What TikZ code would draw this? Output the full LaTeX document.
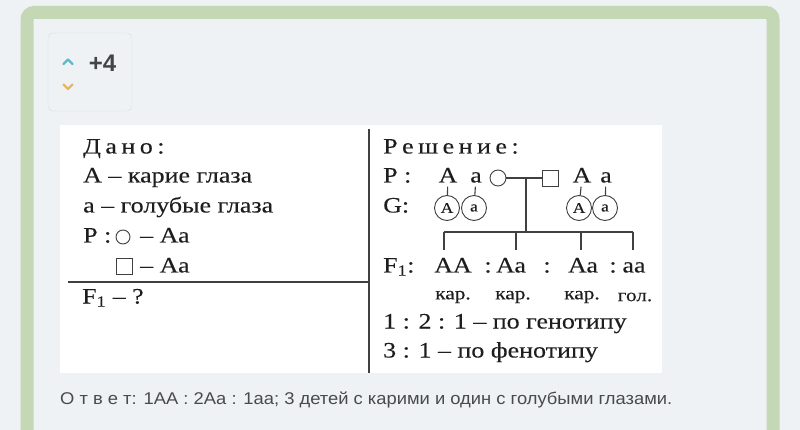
\documentclass[tikz,border=0pt]{standalone}
\usepackage{fontspec}
\setmainfont{Liberation Serif}[FakeStretch=1.18, FakeBold=0.15]
\newfontfamily\uisans{Liberation Sans}[FakeStretch=1.08]
\newfontfamily\uisansbold{Liberation Sans Bold}
\usetikzlibrary{positioning}

\definecolor{pagebg}{HTML}{EEF2F5}
\definecolor{framegreen}{HTML}{C4D8B6}
\definecolor{votebd}{HTML}{D3E0E8}
\definecolor{upteal}{HTML}{5DB8C9}
\definecolor{downamber}{HTML}{E9B565}
\definecolor{ink}{HTML}{1E1E1E}
\definecolor{answergray}{HTML}{4A4A4A}
\definecolor{scoregray}{HTML}{444444}

\tikzset{
  txt/.style={anchor=west, inner sep=0pt, text=ink, font=\fontsize{22}{22}\selectfont,
    text height=15pt, text depth=4pt},
  allele/.style={txt, anchor=center},
  eyes/.style={inner sep=0pt, text=ink, font=\fontsize{18}{18}\selectfont},
  gamete/.style={circle, draw=ink!85, line width=0.9pt, minimum size=25pt, inner sep=0pt,
    text=ink, font=\fontsize{15}{15}\selectfont},
  sym/.style={draw=ink!85, line width=0.9pt, inner sep=0pt},
  rule/.style={ink!85, line width=1.1pt}
}

\begin{document}
\begin{tikzpicture}[x=1pt, y=-1pt]
    \useasboundingbox (0,0) rectangle (800,430);
    \clip (0,0) rectangle (800,430);
    \fill[pagebg] (0,0) rectangle (800,430);
    \draw[framegreen, line width=13pt, fill=pagebg, rounded corners=7pt] (27,12.5) rectangle (773,460);

    % vote box
    \node[draw=votebd, fill=pagebg, rounded corners=5pt, minimum width=84pt, minimum height=78pt] (vote) at (90,72) {};
    \draw[upteal, line width=2.2pt, line cap=round, line join=round] (63.5,64) -- (68,59.5) -- (72.5,64);
    \draw[downamber, line width=2.2pt, line cap=round, line join=round] (63.5,84.5) -- (68,89) -- (72.5,84.5);
    \node[font=\uisansbold\fontsize{24}{24}\selectfont, text=scoregray] (score) at (102.5,63) {+4};

    % picture of the task
    \fill[white] (60,125) rectangle (662,373);
    \draw[rule] (369,129) -- (369,373);
    \draw[rule] (68,282) -- (369,282);

    \begin{scope}
      \node[txt] (given) at (83,148) {Д\kern4.5pt а\kern4.5pt н\kern4.5pt о\kern4.5pt :};
      \node[txt] (brown) at (83,177) {А – карие глаза};
      \node[txt] (blue) at (83,207) {а – голубые глаза};
      \node[txt] (pgiven) at (83,237) {Р :};
      \node[sym, circle, minimum size=14pt] (femsym) at (123,237) {};
      \node[txt] (femgeno) at (140,237) {– Аа};
      \node[sym, minimum size=16pt] (malsym) at (124,266) {};
      \node[txt] (malgeno) at (140,267) {– Аа};
      \node[txt] (find) at (82,298) {F\textsubscript{1} – ?};
    \end{scope}

    \begin{scope}
      \node[txt] (solution) at (383,148) {Р\kern4.5pt е\kern4.5pt ш\kern4.5pt е\kern4.5pt н\kern4.5pt и\kern4.5pt е\kern4.5pt :};
      \node[txt] (prow) at (383,177) {Р :};
      \node[txt] (grow) at (383,207) {G:};
      \node[txt] (frow) at (383,267) {F\textsubscript{1}:};

      \node[allele] (mA) at (448,177) {А};
      \node[allele] (ma) at (476,177) {а};
      \node[allele] (fA) at (582,177) {А};
      \node[allele] (fa) at (606,177) {а};
      \node[sym, circle, minimum size=16pt] (mother) at (498,178) {};
      \node[sym, minimum size=16pt] (father) at (550,178) {};
      \draw[rule] (mother) -- (father);

      \node[gamete] (gmA) at (447,208) {А};
      \node[gamete] (gma) at (474,208) {а};
      \node[gamete] (gfA) at (579,208) {А};
      \node[gamete] (gfa) at (605,208) {а};
      \draw[rule] (mA) -- (gmA);
      \draw[rule] (ma) -- (gma);
      \draw[rule] (fA) -- (gfA);
      \draw[rule] (fa) -- (gfa);

      \coordinate (mid) at (526,178);
      \coordinate (sib) at (526,232);
      \draw[rule] (mid) -- (sib);
      \foreach \x [count=\i] in {444,516,581,633} {
        \coordinate (top\i) at (\x,232);
        \coordinate (bot\i) at (\x,250);
        \draw[rule] (top\i) -- (bot\i);
      }
      \draw[rule] (top1) -- (top4);

      \node[allele] (kid1) at (453,267) {АА};
      \node[allele] (sep1) at (488,267) {:};
      \node[allele] (kid2) at (511,267) {Аа};
      \node[allele] (sep2) at (547,267) {:};
      \node[allele] (kid3) at (583,267) {Аа};
      \node[allele] (sep3) at (613,267) {:};
      \node[allele] (kid4) at (634,267) {аа};
      \node[eyes] (eye1) at (453,297) {кар.};
      \node[eyes] (eye2) at (513,297) {кар.};
      \node[eyes] (eye3) at (582,297) {кар.};
      \node[eyes] (eye4) at (635,297) {гол.};

      \node[txt] (genoratio) at (383,323) {1 : 2 : 1 – по генотипу};
      \node[txt] (phenoratio) at (383,352) {3 : 1 – по фенотипу};
    \end{scope}

    \node[anchor=west, inner sep=0pt, font=\uisans\fontsize{17}{17}\selectfont, text=answergray] (answer) at (60,400)
      {О т в е т: 1АА : 2Аа : 1аа; 3 детей с карими и один с голубыми глазами.};
  \end{tikzpicture}
\end{document}
